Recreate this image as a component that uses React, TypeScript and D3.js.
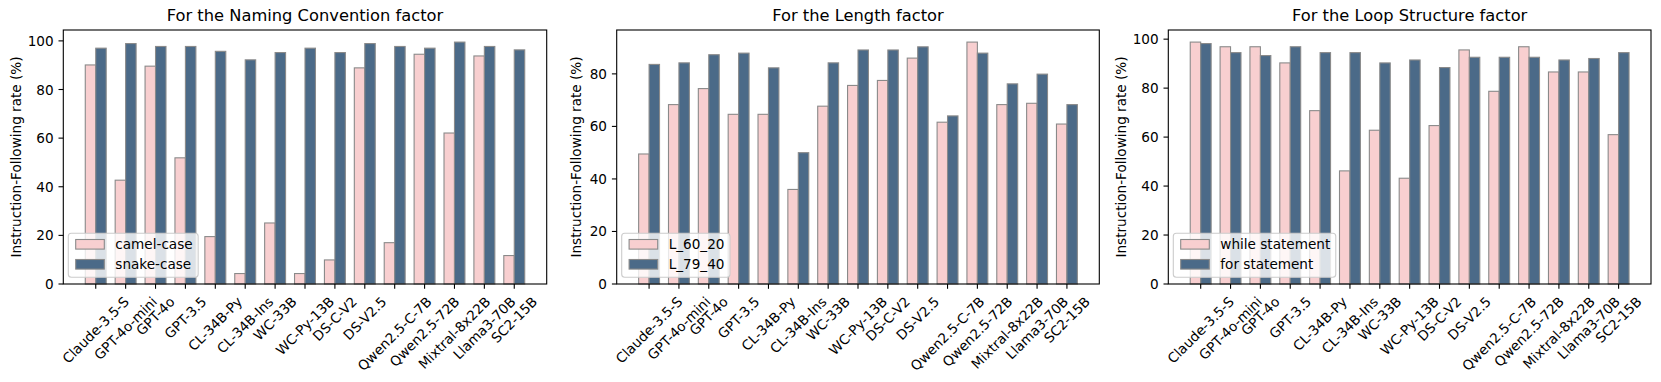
import React, { useLayoutEffect, useRef, useState } from "react";
import * as d3 from "d3";

const categories = [
  "Claude-3.5-S", "GPT-4o-mini", "GPT-4o", "GPT-3.5", "CL-34B-Py", "CL-34B-Ins",
  "WC-33B", "WC-Py-13B", "DS-C-V2", "DS-V2.5", "Qwen2.5-C-7B", "Qwen2.5-72B",
  "Mixtral-8x22B", "Llama3-70B", "SC2-15B",
];

const camelCase = [90.1, 42.7, 89.6, 51.9, 19.5, 4.3, 25.1, 4.3, 9.9, 88.9, 17.0, 94.5, 62.1, 93.8, 11.7];
const snakeCase = [97.0, 98.9, 97.7, 97.7, 95.7, 92.2, 95.2, 97.0, 95.2, 98.9, 97.7, 97.0, 99.5, 97.7, 96.3];

const len6020 = [49.5, 68.3, 74.4, 64.6, 64.6, 36.0, 67.7, 75.6, 77.5, 86.0, 61.6, 92.1, 68.3, 68.8, 60.9];
const len7940 = [83.6, 84.2, 87.3, 87.9, 82.3, 50.0, 84.2, 89.1, 89.1, 90.3, 64.0, 87.9, 76.2, 79.9, 68.3];

const whileStmt = [98.8, 96.9, 96.9, 90.3, 70.8, 46.2, 62.8, 43.2, 64.7, 95.6, 78.7, 96.9, 86.6, 86.6, 61.0];
const forStmt = [98.2, 94.5, 93.3, 96.9, 94.5, 94.5, 90.3, 91.5, 88.4, 92.6, 92.6, 92.6, 91.5, 92.1, 94.5];

const titles = ["For the Naming Convention factor", "For the Length factor", "For the Loop Structure factor"];
const seriesNames = [["camel-case", "snake-case"], ["L_60_20", "L_79_40"], ["while statement", "for statement"]];
const yTicks = [[0, 20, 40, 60, 80, 100], [0, 20, 40, 60, 80], [0, 20, 40, 60, 80, 100]];
const yLabel = "Instruction-Following rate (%)";

const panels = [
  { title: titles[0], names: seriesNames[0], a: camelCase, b: snakeCase, ticks: yTicks[0], left: 63.3, right: 546.7, ylabOff: 42 },
  { title: titles[1], names: seriesNames[1], a: len6020, b: len7940, ticks: yTicks[1], left: 616.7, right: 1099.3, ylabOff: 35.5 },
  { title: titles[2], names: seriesNames[2], a: whileStmt, b: forStmt, ticks: yTicks[2], left: 1168.3, right: 1651, ylabOff: 42 },
];

const W = 1661;
const H = 382;
const TOP = 30;
const BOTTOM = 284;
const FS = 13.6;
const TFS = 16.3;
const FONT = "'DejaVu Sans', sans-serif";
const PINK = "#f8cfd0";
const BLUE = "#4b6a88";
const EDGE = "#8a8a8a";
const BW = 0.35;

function Panel({ p }: { p: typeof panels[number] }) {
  const n = categories.length;
  const lo = -BW, hi = n - 1 + BW;
  const m = (hi - lo) * 0.05;
  const x = d3.scaleLinear().domain([lo - m, hi + m]).range([p.left, p.right]);
  const ymax = Math.max(d3.max(p.a)!, d3.max(p.b)!) * 1.05;
  const y = d3.scaleLinear().domain([0, ymax]).range([BOTTOM, TOP]);
  const cx = (p.left + p.right) / 2;
  const cy = (TOP + BOTTOM) / 2;

  const xlabRefs = useRef<(SVGTextElement | null)[]>([]);
  const legRefs = useRef<(SVGTextElement | null)[]>([]);
  const [widths, setWidths] = useState<number[]>(categories.map((c) => c.length * FS * 0.6));
  const [legW, setLegW] = useState<number>(Math.max(...p.names.map((s) => s.length * FS * 0.6)));

  useLayoutEffect(() => {
    const ws = xlabRefs.current.map((el, i) => (el ? el.getComputedTextLength() : widths[i]));
    setWidths(ws);
    const lw = Math.max(...legRefs.current.map((el) => (el ? el.getComputedTextLength() : 0)));
    if (lw > 0) setLegW(lw);
  }, []);

  const fL = p.left + 5;
  const fT = BOTTOM - 50.7;
  const fW = 7.4 + 28.6 + 11 + legW + 5.5;
  const fH = 44;

  const H2 = FS * 1.164;
  return (
    <g>
      <text x={cx} y={20.5} fontSize={TFS} textAnchor="middle" fontFamily={FONT} fill="#000">{p.title}</text>
      {categories.map((c, i) => (
        <g key={c}>
          <rect x={x(i - BW)} y={y(p.a[i])} width={x(i) - x(i - BW)} height={BOTTOM - y(p.a[i])} fill={PINK} stroke={EDGE} strokeWidth={1.1} />
          <rect x={x(i)} y={y(p.b[i])} width={x(i + BW) - x(i)} height={BOTTOM - y(p.b[i])} fill={BLUE} stroke={EDGE} strokeWidth={1.1} />
        </g>
      ))}
      <rect x={p.left} y={TOP} width={p.right - p.left} height={BOTTOM - TOP} fill="none" stroke="#000" strokeWidth={1.1} />
      {p.ticks.map((t) => (
        <g key={t}>
          <line x1={p.left - 4.8} x2={p.left} y1={y(t)} y2={y(t)} stroke="#000" strokeWidth={1.1} />
          <text x={p.left - 9.7} y={y(t) + 5} fontSize={FS} textAnchor="end" fontFamily={FONT} fill="#000">{t}</text>
        </g>
      ))}
      {categories.map((c, i) => {
        const w = widths[i];
        const half = (w + H2) / (2 * Math.SQRT2);
        const tx = x(i);
        const ty = BOTTOM + 9.7 + half;
        return (
          <g key={c}>
            <line x1={tx} x2={tx} y1={BOTTOM} y2={BOTTOM + 4.8} stroke="#000" strokeWidth={1.1} />
            <text ref={(el) => { xlabRefs.current[i] = el; }} transform={`translate(${tx},${ty}) rotate(-45)`} dy={FS * 0.346} fontSize={FS} textAnchor="middle" fontFamily={FONT} fill="#000">{c}</text>
          </g>
        );
      })}
      <text transform={`translate(${p.left - p.ylabOff},${cy}) rotate(-90)`} fontSize={FS} textAnchor="middle" fontFamily={FONT} fill="#000">{yLabel}</text>
      <g>
        <rect x={fL} y={fT} width={fW} height={fH} rx={3} fill="#fff" fillOpacity={0.8} stroke="#cccccc" strokeWidth={1.1} />
        {p.names.map((s, k) => {
          const ey = fT + 11 + k * 20;
          return (
            <g key={s}>
              <rect x={fL + 7.4} y={ey - 4.8} width={28.6} height={9.6} fill={k === 0 ? PINK : BLUE} stroke={EDGE} strokeWidth={1.1} />
              <text ref={(el) => { legRefs.current[k] = el; }} x={fL + 7.4 + 28.6 + 11} y={ey + 4.3} fontSize={FS} fontFamily={FONT} fill="#000">{s}</text>
            </g>
          );
        })}
      </g>
    </g>
  );
}

export default function App() {
  return (
    <div style={{ position: "absolute", left: 0, top: 0 }}>
      <svg width={W} height={H} viewBox={`0 0 ${W} ${H}`} style={{ display: "block", background: "#fff" }}>
        {panels.map((p) => (
          <Panel key={p.title} p={p} />
        ))}
      </svg>
    </div>
  );
}
